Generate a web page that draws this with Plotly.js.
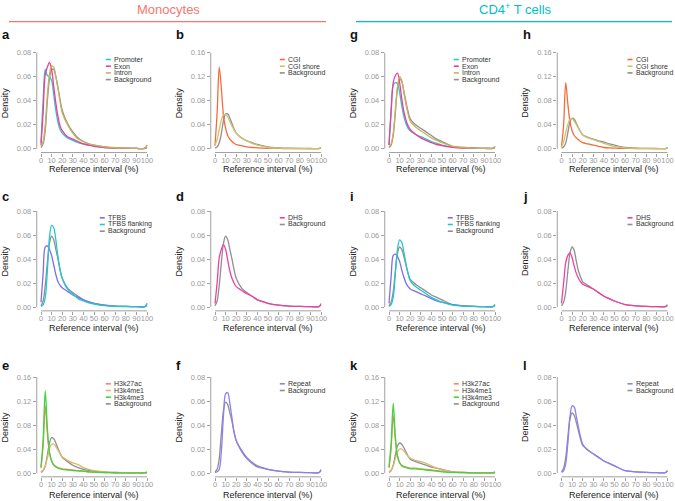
<!DOCTYPE html>
<html>
<head>
<meta charset="utf-8">
<script src="https://cdn.plot.ly/plotly-3.0.1.min.js"></script>
<style>html,body{margin:0;padding:0;background:#fff}#chart{width:675px;height:501px}</style>
</head>
<body>
<div id="chart"></div>
<script>
// ---------- DATA ----------
const xGrid = [0,2,4,6,8,10,12,14,16,18,20,25,30,35,40,45,50,60,70,80,90,98,100];
const xTicks = [0,10,20,30,40,50,60,70,80,90,100];

// a: Monocytes, genomic features
const a_promoter   = [0.005,0.040,0.066,0.061,0.060,0.057,0.045,0.032,0.022,0.016,0.013,0.009,0.007,0.005,0.004,0.003,0.002,0.001,0.0005,0.0003,0.0002,0.0002,0.001];
const a_exon       = [0.003,0.030,0.062,0.068,0.072,0.066,0.052,0.038,0.027,0.019,0.015,0.010,0.008,0.006,0.004,0.003,0.002,0.001,0.0005,0.0003,0.0002,0.0002,0.001];
const a_intron     = [0.002,0.006,0.020,0.045,0.062,0.069,0.068,0.060,0.050,0.039,0.030,0.020,0.013,0.008,0.006,0.004,0.003,0.0015,0.0008,0.0005,0.0003,0.0003,0.003];
const a_background = [0.001,0.004,0.015,0.040,0.058,0.066,0.066,0.060,0.051,0.041,0.032,0.021,0.014,0.009,0.006,0.004,0.003,0.0015,0.0008,0.0005,0.0003,0.0003,0.003];
// b: Monocytes, CGI
const b_cgi        = [0.005,0.060,0.136,0.100,0.055,0.034,0.022,0.016,0.012,0.009,0.007,0.005,0.003,0.002,0.0015,0.001,0.0007,0.0004,0.0002,0.0002,0.0002,0.0002,0.0005];
const b_shore      = [0.006,0.015,0.032,0.048,0.056,0.057,0.053,0.045,0.038,0.031,0.026,0.018,0.013,0.009,0.006,0.004,0.002,0.001,0.0005,0.0003,0.0003,0.0003,0.001];
const b_background = [0.001,0.003,0.010,0.025,0.047,0.058,0.058,0.051,0.042,0.033,0.026,0.018,0.013,0.010,0.007,0.005,0.003,0.0015,0.0008,0.0005,0.0003,0.0003,0.002];
// c: Monocytes, TFBS
const c_tfbs       = [0.004,0.028,0.050,0.051,0.048,0.043,0.035,0.027,0.021,0.018,0.016,0.013,0.010,0.008,0.006,0.004,0.003,0.0015,0.0008,0.0005,0.0003,0.0003,0.001];
const c_flank      = [0.0005,0.002,0.008,0.030,0.058,0.068,0.066,0.056,0.042,0.031,0.024,0.015,0.011,0.007,0.005,0.0035,0.0025,0.0012,0.0006,0.0004,0.0003,0.0003,0.003];
const c_background = [0.001,0.005,0.018,0.037,0.053,0.059,0.056,0.048,0.040,0.031,0.024,0.016,0.012,0.009,0.006,0.0045,0.003,0.0015,0.0008,0.0005,0.0003,0.0003,0.003];
// d: Monocytes, DHS
const d_dhs        = [0.003,0.020,0.041,0.048,0.052,0.048,0.039,0.030,0.024,0.020,0.017,0.014,0.011,0.009,0.006,0.0045,0.003,0.0015,0.0008,0.0005,0.0003,0.0003,0.002];
const d_background = [0.001,0.005,0.018,0.037,0.053,0.059,0.056,0.048,0.040,0.031,0.024,0.016,0.012,0.009,0.006,0.0045,0.003,0.0015,0.0008,0.0005,0.0003,0.0003,0.003];
// e: Monocytes, histone marks
const e_h3k27ac    = [0.008,0.045,0.112,0.065,0.033,0.020,0.014,0.011,0.009,0.008,0.007,0.006,0.005,0.004,0.003,0.002,0.0015,0.0008,0.0004,0.0002,0.0001,0.0001,0.0005];
const e_h3k4me1    = [0.002,0.005,0.012,0.025,0.040,0.048,0.048,0.044,0.038,0.032,0.027,0.021,0.017,0.014,0.009,0.006,0.004,0.002,0.001,0.0005,0.0003,0.0003,0.001];
const e_h3k4me3    = [0.010,0.055,0.137,0.075,0.035,0.020,0.013,0.010,0.008,0.007,0.006,0.005,0.004,0.0035,0.003,0.002,0.0015,0.0008,0.0004,0.0002,0.0001,0.0001,0.0005];
const e_background = [0.001,0.004,0.012,0.030,0.050,0.059,0.057,0.050,0.041,0.033,0.026,0.019,0.013,0.009,0.006,0.0045,0.003,0.0015,0.0008,0.0005,0.0003,0.0003,0.002];
// f: Monocytes, repeats
const f_repeat     = [0.0005,0.001,0.003,0.018,0.048,0.066,0.067,0.058,0.046,0.034,0.027,0.018,0.012,0.008,0.005,0.004,0.003,0.0015,0.0008,0.0005,0.0003,0.0003,0.003];
const f_background = [0.001,0.003,0.012,0.033,0.052,0.059,0.057,0.050,0.043,0.034,0.027,0.019,0.013,0.009,0.006,0.0045,0.003,0.0015,0.0008,0.0005,0.0003,0.0003,0.002];
// g: CD4+ T cells, genomic features
const g_promoter   = [0.003,0.030,0.053,0.055,0.054,0.047,0.036,0.027,0.021,0.017,0.015,0.012,0.010,0.008,0.006,0.0045,0.003,0.0015,0.0008,0.0005,0.0003,0.0003,0.001];
const g_exon       = [0.003,0.032,0.055,0.061,0.063,0.055,0.042,0.031,0.024,0.019,0.016,0.012,0.009,0.007,0.005,0.0035,0.0025,0.0012,0.0006,0.0004,0.0003,0.0003,0.001];
const g_intron     = [0.001,0.004,0.013,0.033,0.052,0.060,0.057,0.047,0.037,0.029,0.023,0.018,0.015,0.012,0.009,0.007,0.005,0.002,0.001,0.0005,0.0003,0.0003,0.002];
const g_background = [0.001,0.003,0.011,0.030,0.050,0.058,0.056,0.048,0.039,0.031,0.025,0.020,0.017,0.014,0.011,0.008,0.006,0.002,0.001,0.0005,0.0003,0.0003,0.002];
// h: CD4+ T cells, CGI
const h_cgi        = [0.003,0.040,0.110,0.074,0.045,0.030,0.022,0.018,0.015,0.012,0.010,0.008,0.006,0.004,0.002,0.0015,0.001,0.0005,0.0003,0.0002,0.0002,0.0002,0.0005];
const h_shore      = [0.003,0.012,0.027,0.041,0.049,0.050,0.046,0.040,0.034,0.028,0.023,0.018,0.015,0.012,0.009,0.006,0.004,0.0015,0.0007,0.0004,0.0002,0.0002,0.001];
const h_background = [0.001,0.003,0.010,0.027,0.045,0.051,0.049,0.042,0.035,0.028,0.023,0.019,0.016,0.013,0.011,0.008,0.006,0.002,0.001,0.0005,0.0003,0.0003,0.002];
// i: CD4+ T cells, TFBS
const i_tfbs       = [0.003,0.025,0.043,0.044,0.042,0.038,0.031,0.025,0.020,0.017,0.015,0.013,0.011,0.009,0.007,0.005,0.004,0.002,0.001,0.0005,0.0003,0.0003,0.001];
const i_flank      = [0.0005,0.002,0.008,0.028,0.048,0.056,0.054,0.046,0.036,0.028,0.022,0.017,0.014,0.011,0.008,0.006,0.004,0.0015,0.0008,0.0005,0.0003,0.0003,0.002];
const i_background = [0.001,0.004,0.013,0.030,0.045,0.050,0.048,0.042,0.035,0.028,0.023,0.019,0.016,0.013,0.010,0.008,0.006,0.002,0.001,0.0005,0.0003,0.0003,0.002];
// j: CD4+ T cells, DHS
const j_dhs        = [0.003,0.020,0.037,0.043,0.045,0.041,0.034,0.028,0.024,0.021,0.019,0.017,0.015,0.012,0.009,0.007,0.005,0.002,0.001,0.0005,0.0003,0.0003,0.001];
const j_background = [0.001,0.004,0.013,0.030,0.045,0.050,0.047,0.038,0.030,0.025,0.021,0.018,0.015,0.012,0.009,0.007,0.005,0.002,0.001,0.0005,0.0003,0.0003,0.002];
// k: CD4+ T cells, histone marks
const k_h3k27ac    = [0.008,0.040,0.096,0.055,0.028,0.018,0.013,0.011,0.010,0.009,0.008,0.008,0.007,0.006,0.005,0.004,0.003,0.0015,0.0008,0.0004,0.0002,0.0002,0.0005];
const k_h3k4me1    = [0.002,0.005,0.012,0.024,0.035,0.040,0.040,0.037,0.032,0.028,0.025,0.021,0.019,0.016,0.012,0.008,0.005,0.002,0.001,0.0005,0.0003,0.0003,0.001];
const k_h3k4me3    = [0.010,0.050,0.116,0.060,0.028,0.017,0.012,0.010,0.009,0.008,0.007,0.007,0.006,0.005,0.004,0.003,0.002,0.001,0.0005,0.0003,0.0002,0.0002,0.0005];
const k_background = [0.001,0.004,0.013,0.030,0.045,0.050,0.048,0.042,0.035,0.028,0.023,0.019,0.016,0.013,0.010,0.008,0.006,0.002,0.001,0.0005,0.0003,0.0003,0.002];
// l: CD4+ T cells, repeats
const l_repeat     = [0.0005,0.002,0.008,0.025,0.047,0.056,0.055,0.047,0.038,0.030,0.024,0.019,0.016,0.013,0.010,0.008,0.006,0.002,0.001,0.0005,0.0003,0.0003,0.002];
const l_background = [0.001,0.004,0.013,0.030,0.045,0.050,0.048,0.042,0.035,0.028,0.023,0.019,0.016,0.013,0.010,0.008,0.006,0.002,0.001,0.0005,0.0003,0.0003,0.002];

const groupTitles = ["Monocytes", "CD4<sup>+</sup> T cells"];
const xTitle = "Reference interval (%)";
const yTitle = "Density";

// ---------- STYLE ----------
const C = {
  promoter:"#2ac6c9", exon:"#f03c9c", intron:"#c8b35a", background:"#8f8f8f",
  cgi:"#f26d3d", shore:"#cfc46b", tfbs:"#7d6cf0", flank:"#22c7cb", dhs:"#f03ea8",
  h3k27ac:"#f6875e", h3k4me1:"#d9b970", h3k4me3:"#3fd43f", repeat:"#8c7ef5"
};
const FONT = "Liberation Sans, Arial, Helvetica, sans-serif";
const W = 675, H = 501;
const colX0 = [41, 215, 389, 561.5];
const rowY0 = [148.7, 307, 473];
const xTitleY = [168.5, 328, 495];
const XSPAN = 106, YSPAN = 96;

// legend entries listed in legend order; draw order puts Background first
const panels = [
  {id:"a", col:0,row:0, ymax:0.08, legOff:72.3, s:[["Promoter",a_promoter,C.promoter],["Exon",a_exon,C.exon],["Intron",a_intron,C.intron],["Background",a_background,C.background]]},
  {id:"b", col:1,row:0, ymax:0.16, legOff:72.3, s:[["CGI",b_cgi,C.cgi],["CGI shore",b_shore,C.shore],["Background",b_background,C.background]]},
  {id:"g", col:2,row:0, ymax:0.08, legOff:72.3, s:[["Promoter",g_promoter,C.promoter],["Exon",g_exon,C.exon],["Intron",g_intron,C.intron],["Background",g_background,C.background]]},
  {id:"h", col:3,row:0, ymax:0.16, legOff:73.5, s:[["CGI",h_cgi,C.cgi],["CGI shore",h_shore,C.shore],["Background",h_background,C.background]]},
  {id:"c", col:0,row:1, ymax:0.08, legOff:66.3, s:[["TFBS",c_tfbs,C.tfbs],["TFBS flanking",c_flank,C.flank],["Background",c_background,C.background]]},
  {id:"d", col:1,row:1, ymax:0.08, legOff:72.3, s:[["DHS",d_dhs,C.dhs],["Background",d_background,C.background]]},
  {id:"i", col:2,row:1, ymax:0.08, legOff:66.3, s:[["TFBS",i_tfbs,C.tfbs],["TFBS flanking",i_flank,C.flank],["Background",i_background,C.background]]},
  {id:"j", col:3,row:1, ymax:0.08, legOff:73.5, s:[["DHS",j_dhs,C.dhs],["Background",j_background,C.background]]},
  {id:"e", col:0,row:2, ymax:0.16, legOff:72.3, s:[["H3k27ac",e_h3k27ac,C.h3k27ac],["H3k4me1",e_h3k4me1,C.h3k4me1],["H3k4me3",e_h3k4me3,C.h3k4me3],["Background",e_background,C.background]]},
  {id:"f", col:1,row:2, ymax:0.08, legOff:72.3, s:[["Repeat",f_repeat,C.repeat],["Background",f_background,C.background]]},
  {id:"k", col:2,row:2, ymax:0.16, legOff:72.3, s:[["H3k27ac",k_h3k27ac,C.h3k27ac],["H3k4me1",k_h3k4me1,C.h3k4me1],["H3k4me3",k_h3k4me3,C.h3k4me3],["Background",k_background,C.background]]},
  {id:"l", col:3,row:2, ymax:0.08, legOff:73.5, s:[["Repeat",l_repeat,C.repeat],["Background",l_background,C.background]]}
];

const px = v => v / W;
const py = v => 1 - v / H;

const traces = [], shapes = [], annotations = [];
const layout = {
  width: W, height: H, margin:{l:0,r:0,t:0,b:0}, showlegend:false,
  paper_bgcolor:"#fff", plot_bgcolor:"#fff", font:{family:FONT, color:"#222"}
};

panels.forEach((p, idx) => {
  const n = idx + 1, sfx = n === 1 ? "" : String(n);
  const X0 = colX0[p.col], Y0 = rowY0[p.row];
  const padX = 0.04 * XSPAN, padY = 0.04 * YSPAN;
  const left = X0 - padX, right = X0 + XSPAN + padX;
  const top = Y0 - YSPAN - padY, bottom = Y0 + padY;
  const dt = p.ymax / 4;
  const yt = [0, dt, 2*dt, 3*dt, 4*dt];
  layout["xaxis" + sfx] = {
    domain:[px(left), px(right)], range:[-4, 104], anchor:"y" + sfx,
    tickvals:xTicks, ticktext:xTicks.map(String), tickangle:0, ticks:"outside", ticklen:3, tickwidth:1, tickcolor:"#a0a0a0",
    ticklabelstandoff:-3, ticklabeloverflow:"allow",
    tickfont:{size:7.5, color:"#9a9a9a", family:FONT}, showgrid:false, zeroline:false, showline:false, fixedrange:true
  };
  layout["yaxis" + sfx] = {
    domain:[py(bottom), py(top)], range:[-0.04*p.ymax, 1.04*p.ymax], anchor:"x" + sfx,
    tickvals:yt, ticktext:yt.map(v => v.toFixed(2)), ticks:"outside", ticklen:3, tickwidth:1, tickcolor:"#a0a0a0",
    ticklabeloverflow:"allow",
    tickfont:{size:7.5, color:"#9a9a9a", family:FONT}, showgrid:false, zeroline:false, showline:false, fixedrange:true
  };
  // axis lines spanning only the tick range (R style)
  shapes.push({type:"line", xref:"x"+sfx, yref:"y"+sfx+" domain", x0:0, x1:100, y0:0, y1:0, line:{color:"#a0a0a0", width:1}});
  shapes.push({type:"line", xref:"x"+sfx+" domain", yref:"y"+sfx, x0:0, x1:0, y0:0, y1:p.ymax, line:{color:"#a0a0a0", width:1}});

  // traces: background first, then the others
  const order = p.s.slice(-1).concat(p.s.slice(0, -1));
  order.forEach(([name, ys, col]) => {
    traces.push({x:xGrid, y:ys, type:"scatter", mode:"lines", name:name, xaxis:"x"+sfx, yaxis:"y"+sfx,
      line:{color:col, width:1.3, shape:"spline", smoothing:0.9}, hoverinfo:"skip"});
  });

  // legend (R-style, top right, no box)
  const tx = X0 + p.legOff;
  const ty0 = Y0 - YSPAN + 6.8;
  p.s.forEach(([name, ys, col], k) => {
    const yy = ty0 + 6.7 * k;
    shapes.push({type:"line", xref:"paper", yref:"paper", x0:px(tx-7.5), x1:px(tx-2.5), y0:py(yy), y1:py(yy), line:{color:col, width:1.6}});
    annotations.push({xref:"paper", yref:"paper", x:px(tx), y:py(yy), xanchor:"left", yanchor:"middle", showarrow:false,
      text:name, font:{size:7, color:"#333", family:FONT}, borderpad:0});
  });

  // panel letter
  annotations.push({xref:"paper", yref:"paper", x:px(p.col===3 ? 521 : X0 - 41), y:py(p.row===0?35:(p.row===1?197:365)),
    xanchor:"left", yanchor:"middle", showarrow:false, text:"<b>"+p.id+"</b>", font:{size:13, color:"#111", family:FONT}});
  // y title
  annotations.push({xref:"paper", yref:"paper", x:px(X0 - 36.5), y:py(Y0 - 46), xanchor:"center", yanchor:"middle",
    showarrow:false, textangle:-90, text:yTitle, font:{size:9, color:"#222", family:FONT}});
  // x title
  annotations.push({xref:"paper", yref:"paper", x:px(X0 + 52.5), y:py(xTitleY[p.row]), xanchor:"center", yanchor:"middle",
    showarrow:false, text:xTitle, font:{size:9, color:"#222", family:FONT}});
});

// group headers
annotations.push({xref:"paper", yref:"paper", x:px(168), y:py(9.5), xanchor:"center", yanchor:"middle", showarrow:false,
  text:groupTitles[0], font:{size:13, color:"#F8766D", family:FONT}});
annotations.push({xref:"paper", yref:"paper", x:px(515), y:py(9.5), xanchor:"center", yanchor:"middle", showarrow:false,
  text:groupTitles[1], font:{size:13, color:"#00BFC4", family:FONT}});
shapes.push({type:"line", xref:"paper", yref:"paper", x0:px(9), x1:px(326), y0:py(21.7), y1:py(21.7), line:{color:"#F8766D", width:1.2}});
shapes.push({type:"line", xref:"paper", yref:"paper", x0:px(356), x1:px(672), y0:py(21.7), y1:py(21.7), line:{color:"#00BFC4", width:1.2}});

layout.shapes = shapes;
layout.annotations = annotations;

Plotly.newPlot("chart", traces, layout, {staticPlot:true, displayModeBar:false});
</script>
</body>
</html>
